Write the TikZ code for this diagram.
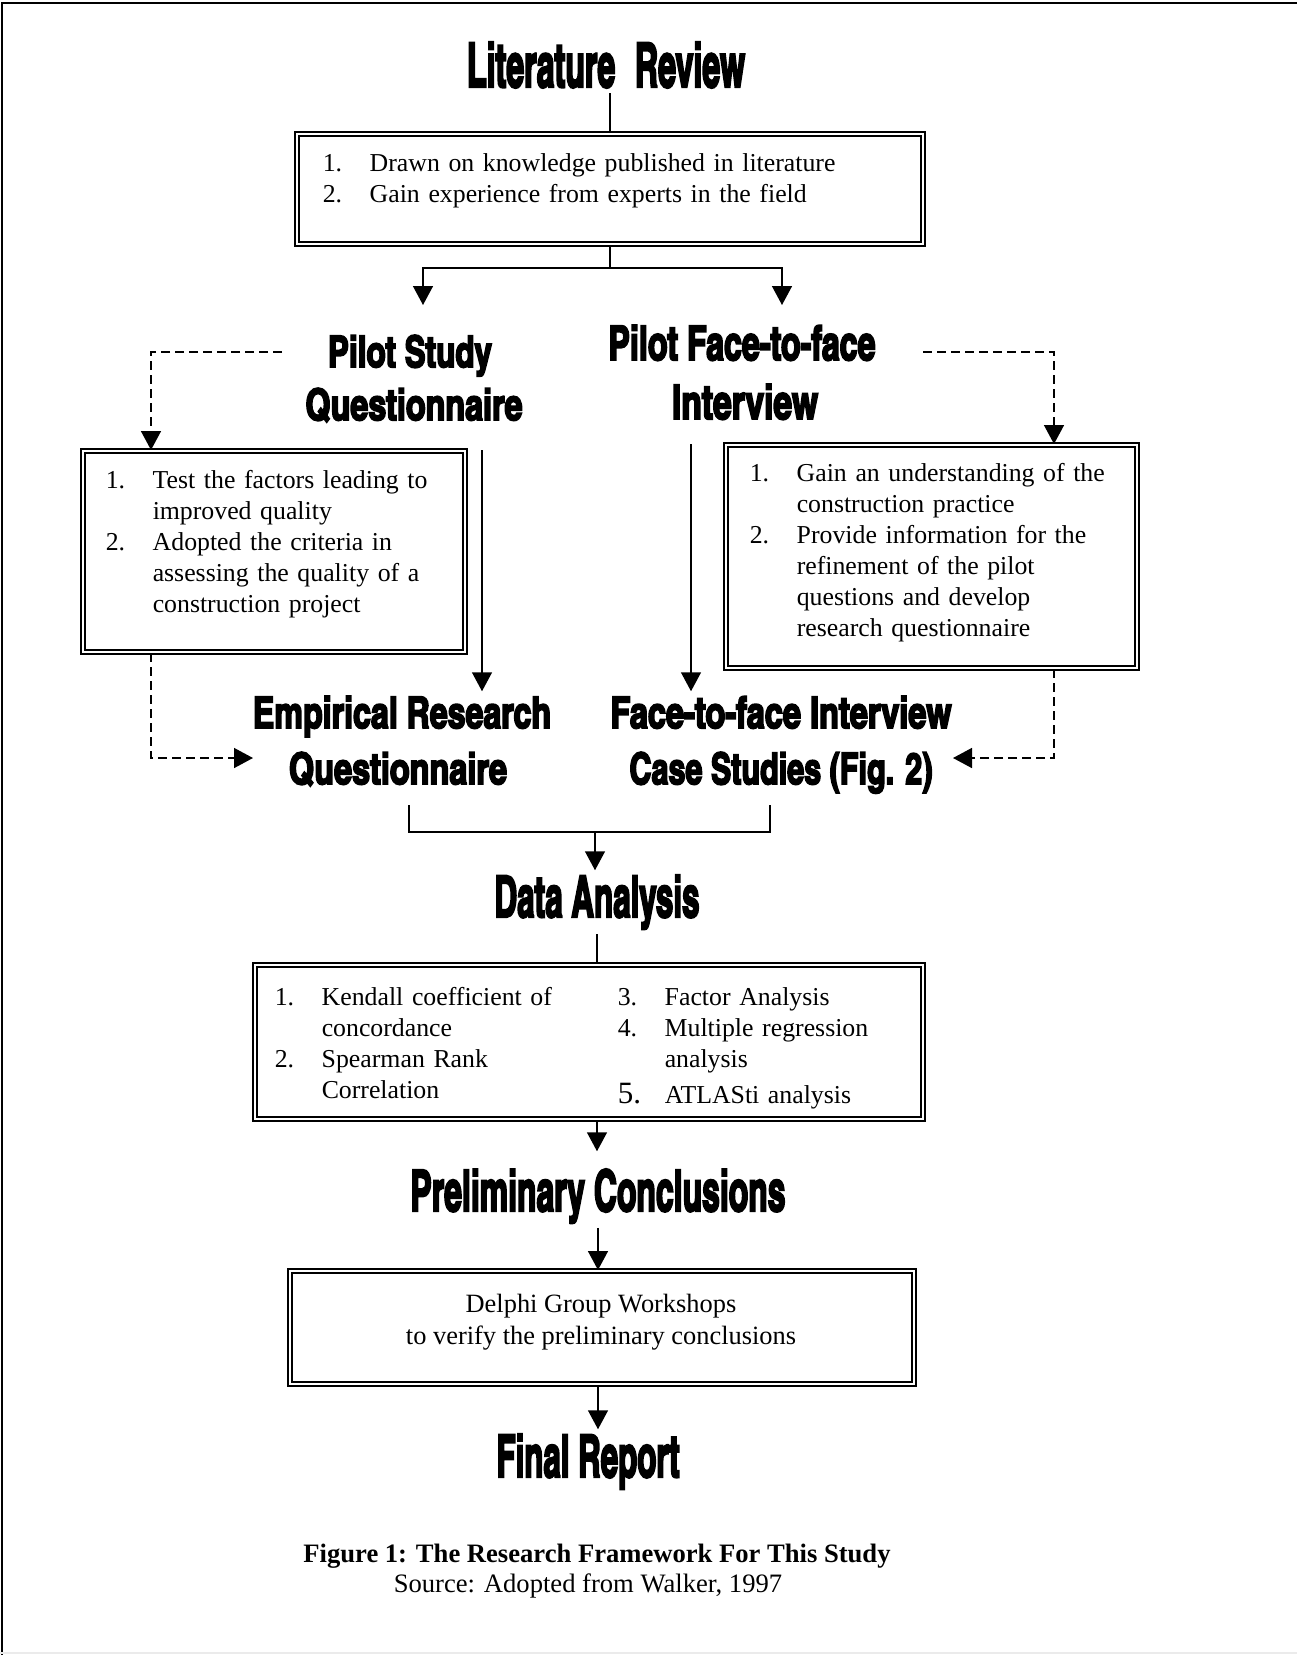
\documentclass[tikz,border=0pt]{standalone}
\usepackage{graphicx}
\usepackage{fontspec}
\setmainfont{Liberation Serif}
\newfontfamily\headfont[FakeBold=4]{texgyreheroscn-bold.otf}
\usetikzlibrary{calc,fit,arrows.meta}
\tikzset{
	% double framed boxes, headings, list text, connectors
	dbox/.style={draw,double,line width=1pt,double distance=1.4pt,inner sep=0pt},
	heading/.style={anchor=base,inner sep=2pt},
	listtext/.style={anchor=north west,inner sep=0pt,text width=#1,align=left,font=\fontsize{12.9}{15.5}\selectfont},
	arr/.style={-{Triangle[length=9.5pt,width=10pt]}},
	dashline/.style={dash pattern=on 4.5pt off 2.5pt}
}
% macro for the big condensed headings
\newcommand{\hd}[3]{\resizebox{#1}{#2}{\headfont #3}}
% macro for numbered lines with a hanging indent
\newcommand{\numitem}[2]{\hangindent=23.5pt\hangafter=1\noindent\makebox[23.5pt][l]{\strut#1}#2\par}

\begin{document}
\begin{tikzpicture}[x=0.5pt,y=-0.5pt,line width=0.75pt]
	\useasboundingbox (0,0) rectangle (1297,1655);
	% page frame
	\draw[line width=1pt] (2,1655) -- (2,3) -- (1297,3);
	\draw[black!8] (0,1653) -- (1297,1653);
	
	% literature review
	\node (title)[heading] at (606,87) {\hd{139pt}{22.5pt}{Literature\hspace{0.5em}Review}};
	\node (litbox)[dbox,fit={(297,134) (923,244)}] {};
	\node (littext)[listtext=300pt] at (322,149) {%
		\numitem{1.}{Drawn on knowledge published in literature}%
		\numitem{2.}{Gain experience from experts in the field}};
	
	% pilot studies
	\node (pilotq-1)[heading] at (410,367) {\hd{82pt}{16pt}{Pilot Study}};
	\node (pilotq-2)[heading] at (414,420) {\hd{108.5pt}{16pt}{Questionnaire}};
	\node (pilotf-1)[heading] at (742,360) {\hd{133.5pt}{17.5pt}{Pilot Face-to-face}};
	\node (pilotf-2)[heading] at (745,419) {\hd{73pt}{17.5pt}{Interview}};
	
	\node (pqbox)[dbox,fit={(83,451) (465,652)}] {};
	\node (pqtext)[listtext=175pt] at (105,466) {%
		\numitem{1.}{Test the factors leading to\newline improved quality}%
		\numitem{2.}{Adopted the criteria in\newline assessing the quality of a\newline construction project}};
	\node (pfbox)[dbox,fit={(726,445) (1137,668)}] {};
	\node (pftext)[listtext=190pt] at (749,459) {%
		\numitem{1.}{Gain an understanding of the\newline construction practice}%
		\numitem{2.}{Provide information for the\newline refinement of the pilot\newline questions and develop\newline research questionnaire}};
	
	% main studies
	\node (empq-1)[heading] at (402,728) {\hd{149pt}{16pt}{Empirical Research}};
	\node (empq-2)[heading] at (398,784) {\hd{109pt}{16pt}{Questionnaire}};
	\node (case-1)[heading] at (781,728) {\hd{170.5pt}{16pt}{Face-to-face Interview}};
	\node (case-2)[heading] at (781,784) {\hd{151.5pt}{16pt}{Case Studies (Fig. 2)}};
	
	% analysis
	\node (data)[heading] at (597,917) {\hd{102.5pt}{21pt}{Data Analysis}};
	\node (anbox)[dbox,fit={(255,965) (923,1119)}] {};
	\node (antext-1)[listtext=150pt] at (274,983) {%
		\numitem{1.}{Kendall coefficient of\newline concordance}%
		\numitem{2.}{Spearman Rank\newline Correlation}};
	\node (antext-2)[listtext=150pt] at (617,983) {%
		\numitem{3.}{Factor Analysis}%
		\numitem{4.}{Multiple regression\newline analysis}%
		\vspace{2.5pt}%
		\numitem{{\fontsize{15.5}{15.5}\selectfont 5.}}{ATLASti analysis}};
	
	% conclusions
	\node (prelim)[heading] at (598,1211) {\hd{187.5pt}{21pt}{Preliminary Conclusions}};
	\node (delbox)[dbox,fit={(290,1271) (914,1384)}] {};
	\node (deltext)[anchor=north,inner sep=0pt,align=center,font=\fontsize{13.2}{15.8}\selectfont] at (601,1290)
		{\strut Delphi Group Workshops\\to verify the preliminary conclusions};
	\node (final)[heading] at (588,1477) {\hd{91.5pt}{21.5pt}{Final Report}};
	
	\node (caption)[anchor=base,font=\fontsize{13.3}{15.5}\selectfont\bfseries] at (597,1562)
		{Figure 1: The Research Framework For This Study};
	\node (source)[anchor=base,font=\fontsize{13.3}{15.5}\selectfont] at (588,1592)
		{Source: Adopted from Walker, 1997};
	
	% connectors from the literature review
	\draw (litbox.north) -- (litbox.north |- title.south);
	\coordinate (pq-in) at (423,305);
	\coordinate (pf-in) at (782,305);
	\draw[arr] (litbox.south) -- ++(0,23) -| (pq-in);
	\draw[arr] (litbox.south) -- ++(0,23) -| (pf-in);
	
	% dashed links round the pilot boxes
	\coordinate (pq-dash) at (282,352);
	\coordinate (pf-dash) at (923,352);
	\draw[dashline,arr] (pq-dash) -| ([xshift=34.5pt]pqbox.north west);
	\draw[dashline,arr] (pf-dash) -| ([xshift=-42pt]pfbox.north east);
	\coordinate (eq-in) at (253,758);
	\coordinate (cs-in) at (953,758);
	\draw[dashline,arr] ([xshift=34.5pt]pqbox.south west) |- (eq-in);
	\draw[dashline,arr] ([xshift=-42pt]pfbox.south east) |- (cs-in);
	
	% solid links down to the main studies
	\coordinate (pq-down) at ([xshift=8pt]pqbox.north east);
	\coordinate (pf-down) at ([xshift=-17pt]pfbox.north west);
	\draw[arr] (pq-down) -- (pq-down |- empq-1.north);
	\draw[arr] (pf-down) -- (pf-down |- case-1.north);
	
	% join and the rest of the flow
	\coordinate (eq-out) at (409,805);
	\coordinate (cs-out) at (770,805);
	\draw (eq-out) -- ++(0,27) -| (cs-out);
	\coordinate (join) at (595,832);
	\draw[arr] (join) -- (join |- data.north);
	\draw (data.south) -- (data.south |- anbox.north);
	\draw[arr,shorten >=6.5pt] (data.south |- anbox.south) -- (data.south |- prelim.north);
	\draw[arr] (prelim.south) -- (prelim.south |- delbox.north);
	\draw[arr] (prelim.south |- delbox.south) -- (prelim.south |- final.north);
\end{tikzpicture}
\end{document}
